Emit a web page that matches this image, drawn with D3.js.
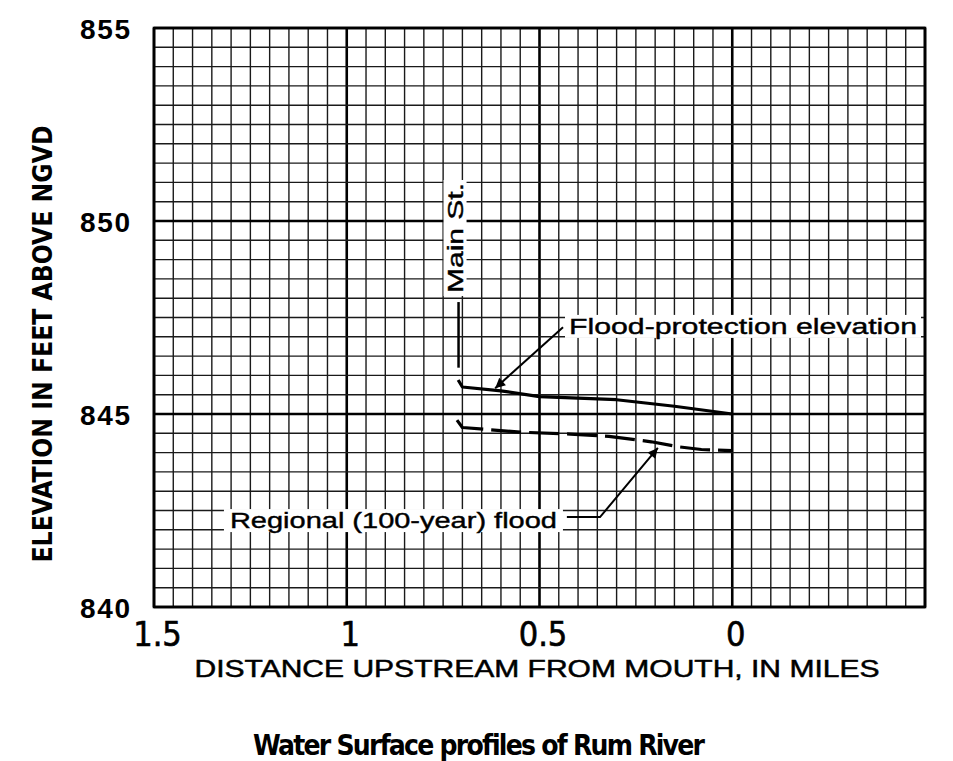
<!DOCTYPE html>
<meta charset="utf-8">
<style>
body {
    margin: 0;
    background: #fff;
}
.minor {
    stroke: #1a1a1a;
    stroke-width: 1.4px;
}
.major {
    stroke: #000;
    stroke-width: 2.6px;
}
.profile {
    fill: none;
    stroke: #000;
    stroke-width: 3.2px;
    stroke-linejoin: round;
}
.leader {
    fill: none;
    stroke: #000;
    stroke-width: 2px;
}
.note {
    font-family: 'Liberation Sans', Arial, sans-serif;
    font-size: 22px;
    fill: #000;
}
</style>
<svg width="953" height="761"></svg>

<script src="https://cdn.jsdelivr.net/npm/d3@7"></script>
<script>
// distance upstream in miles, elevation in feet
let floodProtection = [
    [0.711, 845.88], [0.70, 845.70], [0.60, 845.60], [0.50, 845.45],
    [0.30, 845.37], [0.15, 845.20], [0.00, 845.00]
];
let regionalFlood = [
    [0.714, 844.84], [0.70, 844.65], [0.55, 844.53], [0.42, 844.48],
    [0.32, 844.42], [0.21, 844.28], [0.14, 844.15], [0.08, 844.08], [0.00, 844.05]
];

let xTicks = [1.5, 1, 0.5, 0];
let xTickLabels = ['1.5', '1', '0.5', '0'];
let yTicks = [840, 845, 850, 855];

let xTitle = 'DISTANCE UPSTREAM FROM MOUTH, IN MILES';
let yTitle = 'ELEVATION IN FEET ABOVE NGVD';
let chartTitle = 'Water Surface profiles of Rum River';

let mainSt = {label: 'Main St.', x: 0.71, labelY: 849.56, tick: [847.9, 846.2]};
let floodNote = {label: 'Flood-protection elevation', x: 0.4235, y: 847.28,
    leader: [[0.439, 847.25], [0.615, 845.67]]};
let regionalNote = {label: 'Regional (100-year) flood', x: 1.303, y: 842.25,
    leader: [[0.429, 842.33], [0.343, 842.33], [0.193, 844.12]]};

let svg = d3.select('svg');

let x = d3.scaleLinear().domain([1.5, -0.5]).range([154, 925]);
let y = d3.scaleLinear().domain([840, 855]).range([607, 28]);

let [x0, x1] = x.range();
let [y0, y1] = y.range();

// graph paper
let grid = svg.append('g');
grid.selectAll('.vx').data(x.ticks(40)).enter().append('line')
    .attr('class', d => Math.abs(d * 2 - Math.round(d * 2)) < 1e-6 ? 'major' : 'minor')
    .attr('x1', d => x(d)).attr('x2', d => x(d))
    .attr('y1', y1).attr('y2', y0);
grid.selectAll('.hy').data(y.ticks(30)).enter().append('line')
    .attr('class', d => Math.abs(d % 5) < 1e-6 ? 'major' : 'minor')
    .attr('y1', d => y(d)).attr('y2', d => y(d))
    .attr('x1', x0).attr('x2', x1);
grid.append('rect')
    .attr('x', x0).attr('y', y1)
    .attr('width', x1 - x0).attr('height', y0 - y1)
    .attr('fill', 'none').attr('stroke', '#000').attr('stroke-width', 2.6);

// axes labels
let yAxis = svg.append('g')
    .attr('transform', `translate(${x0},0)`)
    .call(d3.axisLeft(y).tickValues(yTicks).tickSize(0).tickPadding(24));
yAxis.select('.domain').remove();
yAxis.selectAll('text')
    .attr('font-family', "'Liberation Sans', Arial, sans-serif")
    .attr('font-size', 28).attr('font-weight', 'bold')
    .attr('textLength', 50).attr('lengthAdjust', 'spacing')
    .attr('dy', '0.36em').attr('fill', '#000');

let xAxis = svg.append('g')
    .attr('transform', `translate(0,${y0})`)
    .call(d3.axisBottom(x).tickValues(xTicks).tickSize(0)
        .tickFormat((d, i) => xTickLabels[i]));
xAxis.select('.domain').remove();
xAxis.selectAll('text')
    .attr('font-family', "'Liberation Sans Narrow', 'DejaVu Sans Condensed', sans-serif")
    .attr('font-size', 34)
    .attr('stroke', '#000').attr('stroke-width', 0.6)
    .attr('x', 3).attr('y', 39).attr('dy', 0).attr('fill', '#000');

svg.append('text')
    .attr('x', 537).attr('y', 677)
    .attr('text-anchor', 'middle')
    .attr('font-family', "'Liberation Sans', Arial, sans-serif")
    .attr('font-size', 24)
    .attr('stroke', '#000').attr('stroke-width', 0.5)
    .attr('textLength', 685).attr('lengthAdjust', 'spacingAndGlyphs')
    .text(xTitle);

svg.append('text')
    .attr('transform', 'translate(52,344) rotate(-90)')
    .attr('text-anchor', 'middle')
    .attr('font-family', "'Liberation Sans Narrow', 'DejaVu Sans Condensed', sans-serif")
    .attr('font-size', 27).attr('font-weight', 'bold')
    .attr('textLength', 437).attr('lengthAdjust', 'spacingAndGlyphs')
    .text(yTitle);

svg.append('text')
    .attr('x', 479).attr('y', 755)
    .attr('text-anchor', 'middle')
    .attr('font-family', "'Liberation Sans Narrow', 'DejaVu Sans Condensed', sans-serif")
    .attr('font-size', 28).attr('font-weight', 'bold')
    .attr('textLength', 452).attr('lengthAdjust', 'spacing')
    .text(chartTitle);

// profiles
let line = d3.line().x(d => x(d[0])).y(d => y(d[1]));
svg.append('path').datum(floodProtection)
    .attr('class', 'profile').attr('d', line);
svg.append('path').datum(regionalFlood)
    .attr('class', 'profile').attr('stroke-dasharray', '30,8').attr('d', line);

// annotations
svg.append('defs').append('marker')
    .attr('id', 'arrow').attr('viewBox', '0 0 10 10')
    .attr('refX', 10).attr('refY', 5)
    .attr('markerWidth', 7).attr('markerHeight', 5)
    .attr('markerUnits', 'strokeWidth')
    .attr('orient', 'auto')
    .append('path').attr('d', 'M0,0L10,5L0,10Z').attr('fill', '#000');

function boxedText(sel, pad) {
    let node = sel.node();
    let b = node.getBBox();
    d3.select(node.parentNode).insert('rect', () => node)
        .attr('transform', sel.attr('transform'))
        .attr('x', b.x - pad).attr('y', b.y + 1)
        .attr('width', b.width + 2 * pad).attr('height', b.height - 2)
        .attr('fill', '#fff');
}

let notes = svg.append('g');

let fl = notes.append('text').attr('class', 'note')
    .attr('x', x(floodNote.x)).attr('y', y(floodNote.y)).attr('dy', '0.36em')
    .attr('stroke', '#000').attr('stroke-width', 0.4)
    .attr('textLength', 348).attr('lengthAdjust', 'spacingAndGlyphs')
    .text(floodNote.label);
boxedText(fl, 4);
notes.append('path').datum(floodNote.leader)
    .attr('class', 'leader').attr('marker-end', 'url(#arrow)').attr('d', line);

let rl = notes.append('text').attr('class', 'note')
    .attr('x', x(regionalNote.x)).attr('y', y(regionalNote.y)).attr('dy', '0.36em')
    .attr('stroke', '#000').attr('stroke-width', 0.4)
    .attr('textLength', 327).attr('lengthAdjust', 'spacingAndGlyphs')
    .text(regionalNote.label);
boxedText(rl, 6);
notes.append('path').datum(regionalNote.leader)
    .attr('class', 'leader').attr('marker-end', 'url(#arrow)').attr('d', line);

let ms = notes.append('text').attr('class', 'note')
    .attr('transform', `translate(${x(mainSt.x) + 4},${y(mainSt.labelY)}) rotate(-90)`)
    .attr('text-anchor', 'middle')
    .attr('font-size', 24)
    .attr('stroke', '#000').attr('stroke-width', 0.4)
    .attr('textLength', 110).attr('lengthAdjust', 'spacingAndGlyphs')
    .text(mainSt.label);
boxedText(ms, 3);
notes.append('line')
    .attr('x1', x(mainSt.x)).attr('x2', x(mainSt.x))
    .attr('y1', y(mainSt.tick[0])).attr('y2', y(mainSt.tick[1]))
    .attr('stroke', '#000').attr('stroke-width', 2.5);
</script>
